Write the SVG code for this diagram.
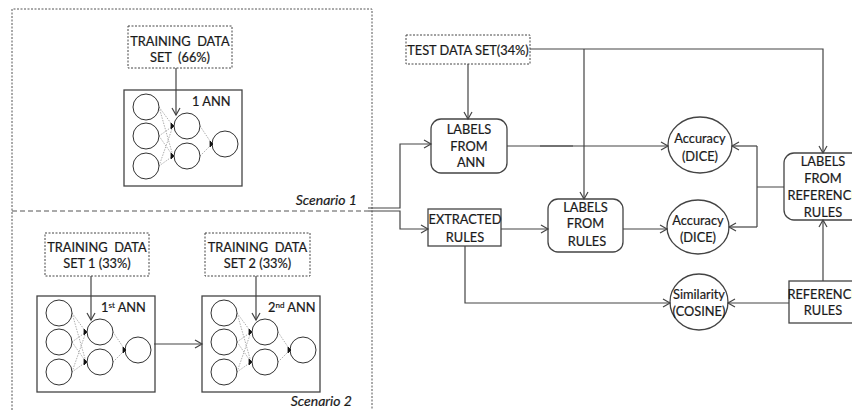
<svg xmlns="http://www.w3.org/2000/svg" width="852" height="410" viewBox="0 0 852 410">
<defs>
<style>
text{font-family:Lato,"Liberation Sans",sans-serif;font-size:12.8px;fill:#1a1a1a;stroke:#1a1a1a;stroke-width:0.2;}
.pre{white-space:pre;}
.c{text-anchor:middle;}
.it{font-style:italic;font-size:14px;text-anchor:end;}
.box{fill:#fff;stroke:#444;stroke-width:1.3;}
.dbox{fill:#fff;stroke:#444;stroke-width:1;stroke-dasharray:2 1.5;}
.scen{fill:none;stroke:#555;stroke-width:1;stroke-dasharray:2 1.5;}
.div{fill:none;stroke:#555;stroke-width:1;stroke-dasharray:5 3;}
.ln{fill:none;stroke:#444;stroke-width:1.2;}
.arr{fill:none;stroke:#444;stroke-width:1.2;marker-end:url(#ah);}
.neu{fill:#fff;stroke:#333;stroke-width:1;}
.syn{fill:none;stroke:#999;stroke-width:0.8;stroke-dasharray:1.5 1.2;}
</style>
<marker id="ah" markerWidth="10" markerHeight="10" refX="8" refY="5" orient="auto" markerUnits="userSpaceOnUse">
<path d="M1,1 L8,5 L1,9" fill="none" stroke="#444" stroke-width="1.2"/>
</marker>
<g id="net">
<rect class="box" x="0" y="0" width="118" height="96"/>
<path class="syn" d="M35,17 L49,36 M35,46 L49,36 M35,76 L49,36 M35,17 L49,66 M35,46 L49,66 M35,76 L49,66 M76,36 L88,54 M76,66 L88,54"/>
<circle class="neu" cx="22" cy="17" r="13"/>
<circle class="neu" cx="22" cy="46" r="13"/>
<circle class="neu" cx="22" cy="76" r="13"/>
<circle class="neu" cx="63" cy="36" r="13"/>
<circle class="neu" cx="63" cy="66" r="13"/>
<circle class="neu" cx="101" cy="54" r="13"/>
<path d="M47,33 L50,36 L47,39 Z M47,63 L50,66 L47,69 Z M86,51 L89,54 L86,57 Z" fill="#111" stroke="#111" stroke-width="0.8"/>
</g>
</defs>
<rect width="852" height="410" fill="#fff"/>

<g id="scenarios">
<path class="scen" d="M12,410 V9 H372 V410"/>
<path class="div" d="M12,211 H368"/>
<text class="it" x="357" y="205">Scenario 1</text>
<text class="it" x="352" y="406">Scenario 2</text>
</g>

<g id="training66">
<rect class="dbox" x="128" y="26" width="104" height="42"/>
<text class="c pre" x="180" y="46">TRAINING  DATA</text>
<text class="c pre" x="180" y="61.5">SET  (66%)</text>
</g>
<g id="ann1">
<use href="#net" x="124" y="90"/>
<text x="192" y="106">1 ANN</text>
</g>

<g id="training33a">
<rect class="dbox" x="45" y="233" width="104" height="43"/>
<text class="c pre" x="97" y="251.5">TRAINING  DATA</text>
<text class="c" x="97" y="268">SET 1 (33%)</text>
</g>
<g id="training33b">
<rect class="dbox" x="205" y="233" width="105" height="43"/>
<text class="c pre" x="257.5" y="251.5">TRAINING  DATA</text>
<text class="c" x="257.5" y="268">SET 2 (33%)</text>
</g>
<g id="ann1st">
<use href="#net" x="37" y="296"/>
<text x="101" y="312">1<tspan font-size="8" dy="-4">st</tspan><tspan dy="4"> ANN</tspan></text>
</g>
<g id="ann2nd">
<use href="#net" x="202" y="296"/>
<text x="268" y="312">2<tspan font-size="8" dy="-4">nd</tspan><tspan dy="4"> ANN</tspan></text>
</g>

<g id="testdata">
<rect class="dbox" x="406" y="35" width="124" height="29"/>
<text class="c" x="468" y="55">TEST DATA SET(34%)</text>
</g>
<g id="labelsAnn">
<rect class="box" x="431" y="119" width="76" height="54" rx="10"/>
<text class="c" x="469" y="133.5">LABELS</text>
<text class="c" x="469" y="150.5">FROM</text>
<text class="c" x="471" y="167">ANN</text>
</g>
<g id="extracted">
<rect class="box" x="428" y="209" width="73" height="37"/>
<text class="c" x="465" y="223.5">EXTRACTED</text>
<text class="c" x="465" y="241.5">RULES</text>
</g>
<g id="labelsRules">
<rect class="box" x="548" y="199" width="75" height="53" rx="10"/>
<text class="c" x="585.5" y="211.5">LABELS</text>
<text class="c" x="585.5" y="228">FROM</text>
<text class="c" x="587" y="245.5">RULES</text>
</g>
<g id="acc1">
<ellipse class="box" cx="700" cy="145" rx="32" ry="28"/>
<text class="c" x="700" y="142.5">Accuracy</text>
<text class="c" x="700" y="160.5">(DICE)</text>
</g>
<g id="acc2">
<ellipse class="box" cx="698" cy="227" rx="31" ry="27"/>
<text class="c" x="698" y="224.5">Accuracy</text>
<text class="c" x="698" y="241.5">(DICE)</text>
</g>
<g id="similarity">
<ellipse class="box" cx="699" cy="302" rx="29" ry="28"/>
<text class="c" x="699" y="298.5">Similarity</text>
<text class="c" x="699" y="315.5">(COSINE)</text>
</g>
<g id="labelsRef">
<rect class="box" x="784" y="153" width="80" height="67" rx="10"/>
<text class="c" x="823" y="165.5">LABELS</text>
<text class="c" x="823" y="182.5">FROM</text>
<text class="c" x="823" y="199.5">REFERENCE</text>
<text class="c" x="823" y="216.5">RULES</text>
</g>
<g id="refRules">
<rect class="box" x="789" y="281" width="80" height="42"/>
<text class="c" x="823" y="298.5">REFERENCE</text>
<text class="c" x="823" y="314.5">RULES</text>
</g>

<g id="connectors">
<path class="arr" d="M176,68 V115"/>
<path class="arr" d="M91,276 V320"/>
<path class="arr" d="M256,276 V320"/>
<path class="arr" d="M154,344 H202"/>
<path class="arr" d="M368,208 H400 V144 H431"/>
<path class="arr" d="M368,211 H400 V229 H428"/>
<path class="arr" d="M468,64 V119"/>
<path class="arr" d="M530,49 H823 V153"/>
<path class="arr" d="M584,49 V199"/>
<path class="arr" d="M507,146 H668"/>
<path class="ln" d="M540,146 H573" stroke-width="2"/>
<path class="ln" d="M784,187 H757 M757,146 V227"/>
<path class="arr" d="M757,146 H732"/>
<path class="arr" d="M757,227 H729"/>
<path class="arr" d="M501,229 H548"/>
<path class="arr" d="M623,229 H667"/>
<path class="arr" d="M465,246 V303 H670"/>
<path class="arr" d="M789,303 H728"/>
<path class="arr" d="M823,281 V220"/>
</g>
</svg>
